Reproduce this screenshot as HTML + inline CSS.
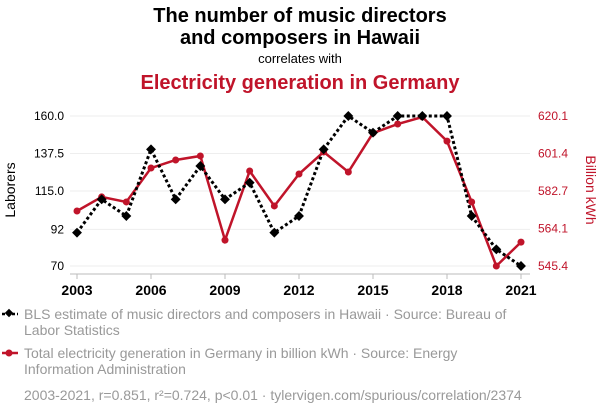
<!DOCTYPE html>
<html><head><meta charset="utf-8"><style>
body{margin:0;background:#fff;width:600px;height:414px;overflow:hidden;font-family:"Liberation Sans",sans-serif}
</style></head><body>
<svg width="600" height="414" xmlns="http://www.w3.org/2000/svg" font-family="Liberation Sans, sans-serif">
<text x="300" y="22" text-anchor="middle" font-size="20" font-weight="bold" fill="#000">The number of music directors</text>
<text x="300" y="44" text-anchor="middle" font-size="20" font-weight="bold" fill="#000">and composers in Hawaii</text>
<text x="300" y="63" text-anchor="middle" font-size="13" fill="#000">correlates with</text>
<text x="300" y="89" text-anchor="middle" font-size="20" font-weight="bold" fill="#c0142a">Electricity generation in Germany</text>
<g id="grid"></g>
<line x1="70" y1="274" x2="530" y2="274" stroke="#bbb" stroke-width="1"/>
<g id="axes"></g>
<g id="series"></g>
<text transform="translate(15,190) rotate(-90)" text-anchor="middle" font-size="14" fill="#000">Laborers</text>
<text transform="translate(586,190) rotate(90)" text-anchor="middle" font-size="14" fill="#c0142a">Billion kWh</text>
<g>
<line x1="2" y1="314" x2="18" y2="314" stroke="#000" stroke-width="2.5" stroke-dasharray="3,2"/>
<rect x="6" y="310" width="6" height="6" transform="rotate(45 9 313)" fill="#000"/>
<text x="24" y="319" font-size="14" fill="#999">BLS estimate of music directors and composers in Hawaii · Source: Bureau of</text>
<text x="24" y="335" font-size="14" fill="#999">Labor Statistics</text>
</g>
<g>
<line x1="2" y1="353" x2="18" y2="353" stroke="#c0142a" stroke-width="2.5"/>
<circle cx="9" cy="353" r="3.5" fill="#c0142a"/>
<text x="24" y="358" font-size="14" fill="#999">Total electricity generation in Germany in billion kWh · Source: Energy</text>
<text x="24" y="374" font-size="14" fill="#999">Information Administration</text>
</g>
<text x="24" y="400" font-size="14" fill="#999">2003-2021, r=0.851, r²=0.724, p&lt;0.01 · tylervigen.com/spurious/correlation/2374</text>
</svg>
<script>
const years=[2003,2004,2005,2006,2007,2008,2009,2010,2011,2012,2013,2014,2015,2016,2017,2018,2019,2020,2021];
const musicians=[90,110,100,140,110,130,110,120,90,100,140,160,150,160,160,160,100,80,70];
const electricity=[572.8,579.8,577.3,594.2,598.2,600.2,558.3,592.7,575.3,591.2,602.2,592.2,611.6,616.1,619.6,607.6,577.3,545.4,557.3];
const leftTicks=[70,92,115,137.5,160];
const leftTickLabels=["70","92","115.0","137.5","160.0"];
const rightTicks=[545.4,564.1,582.7,601.4,620.1];
const xTicks=[2003,2006,2009,2012,2015,2018,2021];
const NS="http://www.w3.org/2000/svg";
const x=v=>77+(v-2003)*(444/18);
const yL=v=>266-(v-70)*(150/90);
const yR=v=>266-(v-545.4)*(150/74.7);
function mk(t,a,p){const e=document.createElementNS(NS,t);for(const k in a)e.setAttribute(k,a[k]);p.appendChild(e);return e;}
const grid=document.getElementById('grid'),axes=document.getElementById('axes'),ser=document.getElementById('series');
leftTicks.forEach((v,i)=>{
 const g=mk('line',{x1:70,x2:530,y1:yL(v),y2:yL(v),stroke:'#eee','stroke-width':1},grid);
 
 
 const t=mk('text',{x:64,y:yL(v)+4,'text-anchor':'end','font-size':12,fill:'#000'},axes);t.textContent=leftTickLabels[i];
 
 
});
rightTicks.forEach(v=>{
 const t=mk('text',{x:538,y:yR(v)+4,'font-size':12,fill:'#c0142a'},axes);t.textContent=v.toFixed(1);
 
 
});
xTicks.forEach(v=>{
 const tk=mk('line',{x1:x(v),x2:x(v),y1:274,y2:279,stroke:'#bbb','stroke-width':1},axes);
 
 
 const t=mk('text',{x:x(v),y:295,'text-anchor':'middle','font-size':14,'font-weight':'bold',fill:'#000'},axes);t.textContent=v;
 
 
});
const rl=mk('polyline',{points:years.map((y,i)=>x(y)+','+yR(electricity[i])).join(' '),fill:'none',stroke:'#c0142a','stroke-width':2.5},ser);


const bl=mk('polyline',{points:years.map((y,i)=>x(y)+','+yL(musicians[i])).join(' '),fill:'none',stroke:'#000','stroke-width':3,'stroke-dasharray':'3,2.5'},ser);


years.forEach((y,i)=>{
 const c=mk('circle',{cx:x(y),cy:yR(electricity[i]),r:3.5,fill:'#c0142a'},ser);
 
 
 const px=x(y),py=yL(musicians[i]);
 const d=mk('rect',{x:px-3.5,y:py-3.5,width:7,height:7,fill:'#000',transform:`rotate(45 ${px} ${py})`},ser);
 
 
});
</script>
</body></html>
